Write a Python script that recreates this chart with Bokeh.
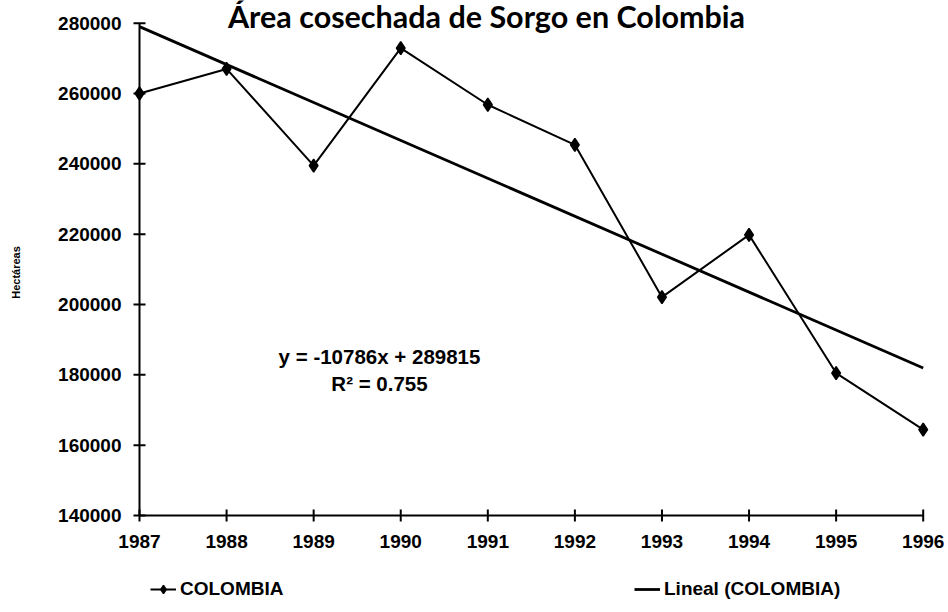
import math
from bokeh.plotting import figure
from bokeh.models import Range1d, Label, Legend, LegendItem
from bokeh.core.properties import value
from bokeh.embed import file_html
from bokeh.resources import INLINE

# ---- data ----
years = [1987, 1988, 1989, 1990, 1991, 1992, 1993, 1994, 1995, 1996]
hectareas = [260000, 267000, 239500, 272900, 256800, 245400, 202100, 219800, 180500, 164400]
trend_slope = -10786
trend_intercept = 289815
r_squared_text = "0.755"
y_ticks = [140000, 160000, 180000, 200000, 220000, 240000, 260000, 280000]
title_text = "Área cosechada de Sorgo en Colombia"
y_label_text = "Hectáreas"
series_name = "COLOMBIA"
trend_name = "Lineal (COLOMBIA)"

# trend line from the fitted equation (x = 1..n)
trend_x = [years[0], years[-1]]
trend_y = [trend_slope * 1 + trend_intercept, trend_slope * len(years) + trend_intercept]

# ---- layout (pixel placement of the axes inside the canvas) ----
W, H = 948, 612
X_LEFT_PX, X_RIGHT_PX = 139.0, 922.7      # pixel of first / last year
Y_TOP_PX, Y_BOT_PX = 22.7, 515.0          # pixel of top / bottom tick
ppx = (X_RIGHT_PX - X_LEFT_PX) / (years[-1] - years[0])
ppy = (Y_BOT_PX - Y_TOP_PX) / (y_ticks[-1] - y_ticks[0])
x_range = Range1d(years[0] - X_LEFT_PX / ppx, years[-1] + (W - X_RIGHT_PX) / ppx)
y_range = Range1d(y_ticks[0] - (H - Y_BOT_PX) / ppy, y_ticks[-1] + Y_TOP_PX / ppy)

FONT = "Liberation Sans"

p = figure(width=W, height=H, output_backend="svg", toolbar_location=None,
           x_range=x_range, y_range=y_range, x_axis_type=None, y_axis_type=None)
p.title.text = ""
p.title.visible = False
p.min_border = 0
p.min_border_left = 0
p.min_border_right = 0
p.min_border_top = 0
p.min_border_bottom = 0
p.outline_line_color = None
p.background_fill_color = "white"
p.border_fill_color = "white"

# ---- axes drawn from the tick arrays ----
x0 = years[0]
y0 = y_ticks[0]
p.line([x0, x0], [y_ticks[0], y_ticks[-1]], line_width=2, line_color="black")
p.line([years[0], years[-1]], [y0, y0], line_width=2, line_color="black")
p.scatter([x0] * len(y_ticks), y_ticks, marker="dash", size=12, line_width=2, line_color="black")
p.scatter(years, [y0] * len(years), marker="dash", angle=math.pi / 2, size=12,
          line_width=2, line_color="black")
p.text([x0] * len(y_ticks), y_ticks, text=[str(t) for t in y_ticks], x_offset=-18,
       text_align="right", text_baseline="middle", text_font=value(FONT),
       text_font_size="19px", text_font_style="bold", text_color="black")
p.text(years, [y0] * len(years), text=[str(y) for y in years], y_offset=26,
       text_align="center", text_baseline="middle", text_font=value(FONT),
       text_font_size="19px", text_font_style="bold", text_color="black")

# ---- series ----
line_r = p.line(years, hectareas, line_width=2, line_color="black")
pts_r = p.scatter(years, hectareas, marker="diamond", size=13,
                  fill_color="black", line_color="black", line_width=1.5)
trend_r = p.line(trend_x, trend_y, line_width=2.8, line_color="black")

# title (partly cut at the top as in the reference)
p.add_layout(Label(x=486, y=H - 15, x_units="screen", y_units="screen", text=title_text,
                   text_align="center", text_baseline="alphabetic",
                   text_font="Lato", text_font_size="30.5px", text_font_style="bold",
                   text_color="black"))

# y axis label
p.add_layout(Label(x=15, y=H - 272, x_units="screen", y_units="screen", text=y_label_text,
                   angle=math.pi / 2, text_align="center", text_baseline="middle",
                   text_font=FONT, text_font_size="11px", text_font_style="bold",
                   text_color="black"))

# regression equation
p.add_layout(Label(x=379, y=H - 356, x_units="screen", y_units="screen",
                   text="y = -10786x + 289815", text_align="center", text_baseline="alphabetic",
                   text_font=FONT, text_font_size="20.5px", text_font_style="bold",
                   text_color="black"))
p.add_layout(Label(x=379, y=H - 383, x_units="screen", y_units="screen",
                   text="R² = " + r_squared_text, text_align="center", text_baseline="alphabetic",
                   text_font=FONT, text_font_size="20.5px", text_font_style="bold",
                   text_color="black"))

def make_legend(item, loc):
    lg = Legend(items=[item], location=loc, orientation="horizontal")
    lg.border_line_color = None
    lg.background_fill_alpha = 0
    lg.padding = 0
    lg.margin = 0
    lg.label_text_font = FONT
    lg.label_text_font_size = "19px"
    lg.label_text_font_style = "bold"
    lg.label_text_color = "black"
    lg.glyph_width = 26
    lg.glyph_height = 20
    lg.label_height = 20
    lg.label_standoff = 4
    return lg

p.add_layout(make_legend(LegendItem(label=series_name, renderers=[line_r, pts_r]), (150, 12)))
p.add_layout(make_legend(LegendItem(label=trend_name, renderers=[trend_r]), (634, 12)))

open("out.html", "w").write(file_html(p, INLINE))
